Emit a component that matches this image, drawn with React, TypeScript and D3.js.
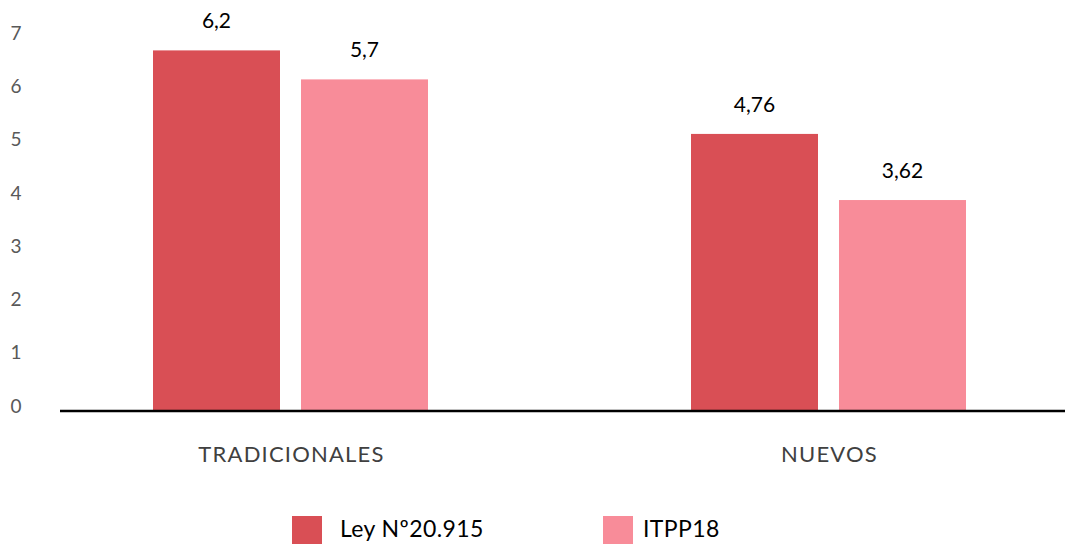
import React from "react";
import * as d3 from "d3";

const categories = ["TRADICIONALES", "NUEVOS"];
const seriesNames = ["Ley Nº20.915", "ITPP18"];
const leyValues = [6.2, 4.76];
const itppValues = [5.7, 3.62];
const valueLabels = [["6,2", "5,7"], ["4,76", "3,62"]];
const yTicks = [0, 1, 2, 3, 4, 5, 6, 7];
const colors = ["#D94F55", "#F88C99"];

const W = 1065;
const H = 548;
const FONT = "Lato, 'Open Sans', sans-serif";

export default function App() {
  const x0 = d3.scaleBand<string>().domain(categories).range([21.5, 1097.5]).paddingInner(0).paddingOuter(0);
  const groupW = 275;
  const x1 = d3.scaleBand<string>().domain(seriesNames).range([0, groupW]).paddingInner(0.142).paddingOuter(0);
  const y = d3.scaleLinear().domain([0, 7]).range([410, 4]);
  const yLab = d3.scaleLinear().domain([0, 7]).range([406, 33]);
  const data = categories.map((c, i) => ({ c, vals: [leyValues[i], itppValues[i]] }));

  return (
    <svg width={W} height={H} style={{ position: "absolute", left: 0, top: 0 }}>
      <rect x={0} y={0} width={W} height={H} fill="#fff" />
      {yTicks.map((t) => (
        <text key={t} x={16} y={yLab(t)} dy="0.35em" textAnchor="middle" fontFamily={FONT} fontSize={19} fill="#595959">
          {t}
        </text>
      ))}
      {data.map((d, i) => {
        const gx = (x0(d.c) as number) + x0.bandwidth() / 2 - groupW / 2;
        return (
          <g key={d.c} transform={`translate(${gx},0)`}>
            {d.vals.map((v, j) => {
              const bx = x1(seriesNames[j]) as number;
              return (
                <g key={j}>
                  <rect x={bx} y={y(v)} width={x1.bandwidth()} height={y(0) - y(v)} fill={colors[j]} />
                  <text x={bx + x1.bandwidth() / 2} y={y(v) - 22} textAnchor="middle" fontFamily={FONT} fontSize={21} fill="#000">
                    {valueLabels[i][j]}
                  </text>
                </g>
              );
            })}
            <text x={groupW / 2 + 1} y={462} textAnchor="middle" fontFamily={FONT} fontSize={22} letterSpacing={1.2} fill="#404040">
              {d.c}
            </text>
          </g>
        );
      })}
      <line x1={60} x2={W} y1={411} y2={411} stroke="#000" strokeWidth={2.5} />
      {seriesNames.map((s, j) => {
        const lx = [292, 603][j];
        return (
          <g key={s}>
            <rect x={lx} y={516} width={30} height={28} fill={colors[j]} />
            <text x={lx + (j === 0 ? 48 : 40)} y={537} fontFamily={FONT} fontSize={23} letterSpacing={0.4} fill="#000">
              {s}
            </text>
          </g>
        );
      })}
    </svg>
  );
}
